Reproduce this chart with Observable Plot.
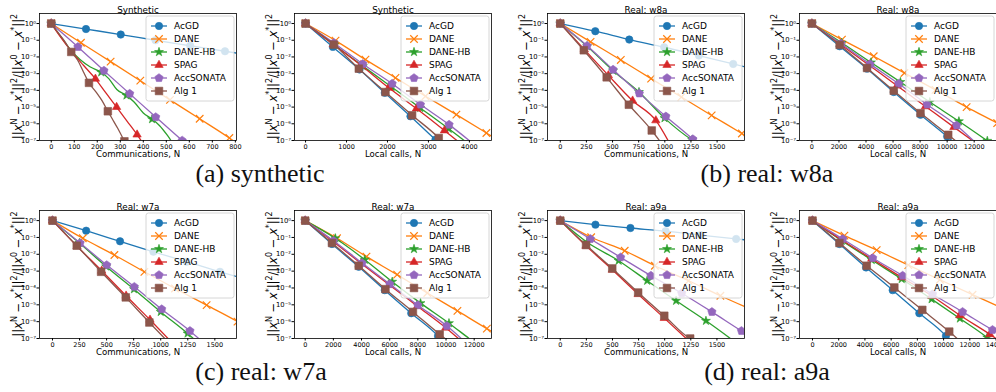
<!DOCTYPE html>
<html><head><meta charset="utf-8">
<script src="https://cdn.jsdelivr.net/npm/d3@7"></script>
<script src="https://cdn.jsdelivr.net/npm/@observablehq/plot@0.6"></script>
<style>
html,body{margin:0;padding:0;background:#fff;}
#fig{position:relative;width:996px;height:392px;overflow:hidden;background:#fff;}
.panel{position:absolute;}
.leg{position:absolute;overflow:visible;}
.cap{position:absolute;font-family:"Liberation Serif","Times New Roman",serif;font-size:26px;line-height:26px;white-space:nowrap;transform:translateX(-50%);color:#111;}
</style></head><body><div id="fig"></div>
<script>
// ---------- series ----------
const seriesNames = ["AcGD", "DANE", "DANE-HB", "SPAG", "AccSONATA", "Alg 1"];
const seriesColors = ["#1f77b4", "#ff7f0e", "#2ca02c", "#d62728", "#9467bd", "#8c564b"];

// ---------- data: per panel, per series (order as seriesNames): [x, log10(y), marker] ----------
const synComm = [
  [[0,0,1],[151,-0.33,1],[302,-0.66,1],[453,-1.0,1],[604,-1.33,1],[755,-1.66,1],[900,-1.98]],
  [[0,0,1],[129,-1.15,1],[258,-2.28,1],[387,-3.42,1],[516,-4.57,1],[645,-5.7,1],[774,-6.85,1],[800,-7.1]],
  [[0,0,1],[40,-0.75],[80,-1.5],[125,-2.15],[170,-2.6],[217,-2.92,1],[250,-3.3],[285,-3.95],[327,-4.3,1],[360,-4.7],[400,-5.35],[438,-5.72,1],[470,-6.1],[505,-6.7],[525,-7.1]],
  [[0,0,1],[40,-0.8],[90,-1.7],[140,-2.5],[192,-3.31,1],[240,-4.2],[284,-5.0,1],[330,-5.85],[373,-6.65,1],[395,-7.1]],
  [[0,0,1],[116,-1.4,1],[229,-2.82,1],[341,-4.2,1],[454,-5.6,1],[569,-7.0,1]],
  [[0,0,1],[30,-0.55],[60,-1.1],[87,-1.7,1],[115,-2.2],[140,-2.9],[164,-3.55,1],[195,-4.1],[220,-4.6],[246,-5.25,1],[265,-5.7],[290,-6.3],[318,-7.05,1]]
];
const synLocal = [
  [[0,0,1],[667,-1.4,1],[1317,-2.75,1],[1935,-4.15,1],[2561,-5.55,1],[3171,-6.95,1],[3250,-7.12]],
  [[0,0,1],[732,-1.02,1],[1463,-2.16,1],[2195,-3.25,1],[2927,-4.35,1],[3683,-5.45,1],[4415,-6.55,1],[4600,-6.83]],
  [[0,0,1],[700,-1.27,1],[1400,-2.55,1],[2100,-3.8,1],[2800,-5.05,1],[3496,-6.3,1],[3900,-7.05]],
  [[0,0,1],[680,-1.25,1],[1350,-2.5,1],[2033,-3.85,1],[2707,-5.09,1],[3390,-6.4,1],[3720,-7.05]],
  [[0,0,1],[691,-1.16,1],[1398,-2.42,1],[2114,-3.6,1],[2805,-4.85,1],[3504,-6.05,1],[4020,-7.05]],
  [[0,0,1],[691,-1.26,1],[1300,-2.7,1],[1951,-4.1,1],[2602,-5.49,1],[3252,-6.85,1],[3330,-7.05]]
];
const w8aComm = [
  [[0,0,1],[335,-0.46,1],[660,-0.96,1],[994,-1.42,1],[1326,-1.92,1],[1654,-2.42,1],[1800,-2.64]],
  [[0,0,1],[290,-1.1,1],[579,-2.18,1],[869,-3.3,1],[1158,-4.4,1],[1448,-5.5,1],[1737,-6.58,1],[1800,-6.82]],
  [[0,0,1],[257,-1.36,1],[505,-2.82,1],[753,-4.1,1],[997,-5.66,1],[1261,-6.96,1],[1300,-7.1]],
  [[0,0,1],[230,-1.55,1],[460,-3.1,1],[692,-4.62,1],[914,-5.8,1],[1040,-7.1]],
  [[0,0,1],[257,-1.33,1],[505,-2.76,1],[756,-4.18,1],[1010,-5.56,1],[1268,-6.92,1],[1300,-7.1]],
  [[0,0,1],[225,-1.6,1],[444,-3.22,1],[656,-4.86,1],[875,-6.4,1],[960,-7.1]]
];
const w8aLocal = [
  [[0,0,1],[2050,-1.36,1],[4075,-2.7,1],[6050,-4.1,1],[8030,-5.46,1],[10000,-6.76,1],[10500,-7.1]],
  [[0,0,1],[2220,-0.96,1],[4570,-1.96,1],[6840,-2.96,1],[9140,-3.97,1],[11440,-5.0,1],[13700,-5.96,1],[14000,-6.09]],
  [[0,0,1],[2200,-1.15,1],[4370,-2.33,1],[6545,-3.5,1],[8720,-4.7,1],[10870,-5.85,1],[12970,-7.02,1],[13200,-7.15]],
  [[0,0,1],[2100,-1.24,1],[4200,-2.48,1],[6300,-3.72,1],[8400,-4.96,1],[10500,-6.2,1],[12000,-7.08]],
  [[0,0,1],[2150,-1.2,1],[4300,-2.43,1],[6420,-3.6,1],[8520,-4.85,1],[10700,-6.1,1],[12000,-7.05]],
  [[0,0,1],[2050,-1.28,1],[4075,-2.66,1],[6050,-4.02,1],[8030,-5.36,1],[10080,-6.66,1],[10750,-7.1]]
];
const w7aComm = [
  [[0,0,1],[311,-0.6,1],[624,-1.23,1],[932,-1.85,1],[1239,-2.44,1],[1547,-3.04,1],[1720,-3.36]],
  [[0,0,1],[280,-1.05,1],[572,-2.04,1],[849,-3.04,1],[1132,-4.03,1],[1424,-5.02,1],[1709,-6.0,1],[1730,-6.08]],
  [[0,0,1],[249,-1.33,1],[495,-2.72,1],[753,-4.07,1],[1000,-5.42,1],[1248,-6.7,1],[1310,-7.05]],
  [[0,0,1],[227,-1.52,1],[455,-2.98,1],[680,-4.46,1],[901,-5.89,1],[1075,-7.05]],
  [[0,0,1],[255,-1.33,1],[501,-2.64,1],[756,-3.93,1],[1009,-5.26,1],[1270,-6.55,1],[1360,-7.05]],
  [[0,0,1],[224,-1.49,1],[449,-3.04,1],[677,-4.56,1],[895,-6.05,1],[1045,-7.05]]
];
const w7aLocal = [
  [[0,0,1],[1900,-1.39,1],[3800,-2.74,1],[5650,-4.13,1],[7530,-5.5,1],[9430,-6.85,1],[9650,-7.05]],
  [[0,0,1],[2260,-1.05,1],[4350,-2.14,1],[6530,-3.21,1],[8670,-4.3,1],[10810,-5.36,1],[12900,-6.41,1],[13300,-6.6]],
  [[0,0,1],[2140,-1.05,1],[4230,-2.32,1],[6180,-3.63,1],[8190,-4.9,1],[10210,-6.09,1],[11640,-7.0],[11800,-7.1]],
  [[0,0,1],[2000,-1.25,1],[3980,-2.55,1],[5980,-3.82,1],[7970,-5.08,1],[9980,-6.36,1],[10950,-7.05]],
  [[0,0,1],[2010,-1.2,1],[4040,-2.52,1],[6010,-3.77,1],[8000,-5.02,1],[10050,-6.25,1],[11150,-7.05]],
  [[0,0,1],[1900,-1.33,1],[3800,-2.68,1],[5700,-4.07,1],[7650,-5.42,1],[9550,-6.75,1],[10000,-7.05]]
];
const a9aComm = [
  [[0,0,1],[337,-0.24,1],[672,-0.44,1],[1009,-0.63,1],[1346,-0.86,1],[1684,-1.09,1],[1800,-1.16]],
  [[0,0,1],[296,-0.99,1],[617,-1.79,1],[906,-2.68,1],[1228,-3.57,1],[1533,-4.46,1],[1800,-5.2]],
  [[0,0,1],[257,-1.29,1],[559,-2.38,1],[832,-3.57,1],[1109,-4.76,1],[1395,-5.95,1],[1640,-7.05]],
  [[0,0,1],[247,-1.5,1],[498,-2.92,1],[746,-4.37,1],[996,-5.79,1],[1215,-7.05]],
  [[0,0,1],[289,-1.09,1],[578,-2.18,1],[868,-3.27,1],[1163,-4.31,1],[1452,-5.42,1],[1735,-6.55,1],[1800,-6.8]],
  [[0,0,1],[247,-1.45,1],[498,-2.84,1],[746,-4.27,1],[996,-5.65,1],[1244,-7.0,1],[1260,-7.05]]
];
const a9aLocal = [
  [[0,0,1],[2056,-1.39,1],[4086,-2.78,1],[6117,-4.13,1],[8147,-5.5,1],[10178,-6.85,1],[10400,-7.05]],
  [[0,0,1],[2437,-0.89,1],[4898,-1.75,1],[7310,-2.64,1],[9720,-3.51,1],[12208,-4.4,1],[14100,-5.06]],
  [[0,0,1],[2233,-1.19,1],[4518,-2.34,1],[6802,-3.47,1],[9086,-4.66,1],[11244,-5.81,1],[13325,-6.94,1],[13500,-7.05]],
  [[0,0,1],[2233,-1.15,1],[4518,-2.27,1],[6802,-3.37,1],[9086,-4.46,1],[11244,-5.62,1],[13528,-6.75,1],[14100,-7.05]],
  [[0,0,1],[2310,-1.09,1],[4594,-2.22,1],[6878,-3.27,1],[9162,-4.37,1],[11447,-5.42,1],[13731,-6.49,1],[14100,-6.65]],
  [[0,0,1],[2056,-1.33,1],[4137,-2.68,1],[6244,-3.97,1],[8376,-5.3,1],[10431,-6.59,1],[11100,-7.05]]
];

// ---------- ticks and labels ----------
const yTicks = [1, 1e-1, 1e-2, 1e-3, 1e-4, 1e-5, 1e-6, 1e-7];
const ticksSynComm = [0, 100, 200, 300, 400, 500, 600, 700, 800];
const ticksSynLocal = [0, 1000, 2000, 3000, 4000];
const ticksComm = [0, 250, 500, 750, 1000, 1250, 1500];
const ticksLocal12 = [0, 2000, 4000, 6000, 8000, 10000, 12000];
const ticksLocal14 = [0, 2000, 4000, 6000, 8000, 10000, 12000, 14000];
const titles = ["Synthetic", "Synthetic", "Real: w8a", "Real: w8a", "Real: w7a", "Real: w7a", "Real: a9a", "Real: a9a"];
const xLabels = ["Communications, N", "Local calls, N"];
const captions = ["(a) synthetic", "(b) real: w8a", "(c) real: w7a", "(d) real: a9a"];

// ---------- symbols ----------
const pentagon = {
  draw(context, size) {
    const R = Math.sqrt(size / 2.378);
    for (let k = 0; k < 5; ++k) {
      const a = -Math.PI / 2 + k * 2 * Math.PI / 5;
      const px = R * Math.cos(a), py = R * Math.sin(a);
      if (k === 0) context.moveTo(px, py); else context.lineTo(px, py);
    }
    context.closePath();
  }
};
const symTypes = [d3.symbolCircle, d3.symbolTimes, d3.symbolStar, d3.symbolTriangle, pentagon, d3.symbolSquare];
const symR = [3.7, 3.5, 2.8, 3.1, 3.8, 4.3];

const supMap = {"0":"⁰","1":"¹","2":"²","3":"³","4":"⁴","5":"⁵","6":"⁶","7":"⁷","8":"⁸","9":"⁹","-":"⁻"};
const supFmt = d => "10" + String(Math.round(Math.log10(d))).split("").map(c => supMap[c]).join("");

const FW = 197, ML = 39, MT = 13;
const panels = [
  {data: synComm,  xd: [-51, 805],    ticks: ticksSynComm,  xl: 0, left: 0,   top: 0,   fh: 127, mr: 14},
  {data: synLocal, xd: [-270, 4540],  ticks: ticksSynLocal, xl: 1, left: 255, top: 0,   fh: 127, mr: 14},
  {data: w8aComm,  xd: [-122, 1762],  ticks: ticksComm,     xl: 0, left: 508, top: 0,   fh: 127, mr: 14},
  {data: w8aLocal, xd: [-918, 13650], ticks: ticksLocal12,  xl: 1, left: 760, top: 0,   fh: 127, mr: 2},
  {data: w7aComm,  xd: [-120, 1700],  ticks: ticksComm,     xl: 0, left: 0,   top: 197, fh: 128, mr: 14},
  {data: w7aLocal, xd: [-760, 13230], ticks: ticksLocal12,  xl: 1, left: 255, top: 197, fh: 128, mr: 14},
  {data: a9aComm,  xd: [-122, 1764],  ticks: ticksComm,     xl: 0, left: 508, top: 197, fh: 128, mr: 14},
  {data: a9aLocal, xd: [-990, 14035], ticks: ticksLocal14,  xl: 1, left: 760, top: 197, fh: 128, mr: 2}
];

const fig = document.getElementById("fig");

function yLabel(svg, cy) {
  const parts = [["||",""],["x","i"],["N","s"],[" − ",""],["x","i"],["*","s"],["||",""],["2","s"],["/",""],["||",""],["x","i"],["0","s"],[" − ",""],["x","i"],["*","s"],["||",""],["2","s"]];
  const t = d3.select(svg).append("text")
    .attr("transform", `translate(22,${cy}) rotate(-90)`)
    .style("text-anchor", "middle")
    .style("font-family", "DejaVu Sans")
    .style("font-size", "11.5px").style("fill", "black");
  let cur = 0;
  parts.forEach(([s, k]) => {
    const sp = t.append("tspan").text(s);
    const target = k === "s" ? -4.7 : 0;
    if (target !== cur) { sp.attr("dy", target - cur); cur = target; }
    if (k === "s") sp.style("font-size", "8px");
    if (k === "i") sp.style("font-style", "italic");
  });
}

// legend drawn as its own small svg overlaid on the panel
function legend(left, top) {
  const W = 88, H = 85;
  const s = d3.select(fig).append("svg").attr("class", "leg")
    .attr("width", W + 2).attr("height", H + 2)
    .style("left", (left - 1) + "px").style("top", (top - 1) + "px");
  const g = s.append("g").attr("transform", "translate(1,1)");
  g.append("rect").attr("x", 0).attr("y", 0).attr("width", W).attr("height", H).attr("rx", 2.5).attr("ry", 2.5)
    .style("fill", "#ffffff").style("fill-opacity", 0.8).style("stroke", "#cccccc").style("stroke-width", 0.8);
  seriesNames.forEach((n, i) => {
    const cy = 10 + i * 13;
    g.append("line").attr("x1", 5).attr("x2", 21).attr("y1", cy).attr("y2", cy)
      .style("stroke", seriesColors[i]).style("stroke-width", 1.3);
    g.append("path").attr("d", d3.symbol(symTypes[i], Math.PI * symR[i] * symR[i])())
      .attr("transform", `translate(13,${cy})`)
      .style("fill", i === 1 ? "none" : seriesColors[i])
      .style("stroke", seriesColors[i]).style("stroke-width", i === 1 ? 1.2 : 0.6);
    g.append("text").attr("x", 28).attr("y", cy).attr("dy", "0.36em")
      .style("text-anchor", "start")
      .style("font-family", "DejaVu Sans").style("font-size", "9px").style("fill", "black").text(n);
  });
}

panels.forEach((p, pi) => {
  const marks = [];
  p.data.forEach((pts, i) => {
    const d = pts.map(q => ({x: q[0], y: Math.pow(10, q[1]), m: q[2] === 1}));
    marks.push(Plot.line(d, {x: "x", y: "y", stroke: seriesColors[i], strokeWidth: 1.3, curve: "monotone-x", clip: true}));
    marks.push(Plot.dot(d.filter(r => r.m), {
      x: "x", y: "y", symbol: symTypes[i], r: symR[i],
      fill: i === 1 ? "none" : seriesColors[i], stroke: seriesColors[i],
      strokeWidth: i === 1 ? 1.2 : 0.6, clip: true
    }));
  });
  marks.push(Plot.frame({stroke: "black", strokeWidth: 0.8}));
  marks.push(Plot.axisX({ticks: p.ticks, tickFormat: d3.format("d"), tickSize: 2.5, tickPadding: 1, label: null, fontSize: 6.5}));
  marks.push(Plot.axisY({ticks: yTicks, tickFormat: supFmt, tickSize: 2.5, tickPadding: 1, label: null, fontSize: 6.8}));
  marks.push(Plot.text([titles[pi]], {frameAnchor: "top", dy: -6.5, fontSize: 8.8}));
  marks.push(Plot.text([xLabels[p.xl]], {frameAnchor: "bottom", dy: 16.5, fontSize: 8.6}));
  const W = ML + FW + p.mr, H = MT + p.fh + 22;
  const svg = Plot.plot({
    width: W, height: H,
    marginLeft: ML, marginRight: p.mr, marginTop: MT, marginBottom: 22,
    x: {type: "linear", domain: p.xd},
    y: {type: "log", domain: [1e-7, 3.98]},
    style: {fontFamily: "DejaVu Sans", fontSize: "6.5px", background: "transparent", color: "black", overflow: "visible", maxWidth: "none"},
    marks
  });
  yLabel(svg, MT + p.fh / 2);
  const div = document.createElement("div");
  div.className = "panel";
  div.style.left = p.left + "px";
  div.style.top = p.top + "px";
  div.style.width = W + "px";
  div.appendChild(svg);
  fig.appendChild(div);
  legend(p.left + ML + FW - 2 - 88, p.top + MT + 2.5);
});

const capPos = [[260, 161], [767, 161], [261, 359], [767, 359]];
captions.forEach((c, i) => {
  const d = document.createElement("div");
  d.className = "cap";
  d.style.left = capPos[i][0] + "px";
  d.style.top = capPos[i][1] + "px";
  d.textContent = c;
  fig.appendChild(d);
});
</script></body></html>
